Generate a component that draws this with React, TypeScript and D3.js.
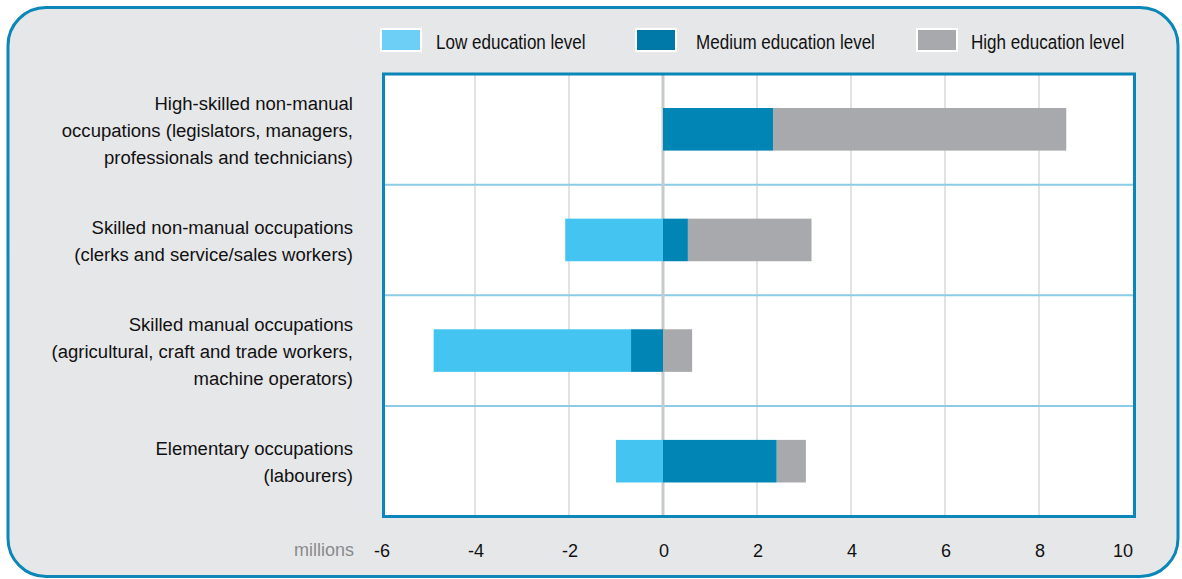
import React from "react";
import * as d3 from "d3";

const categories = [
  ["High-skilled non-manual", "occupations (legislators, managers,", "professionals and technicians)"],
  ["Skilled non-manual occupations", "(clerks and service/sales workers)"],
  ["Skilled manual occupations", "(agricultural, craft and trade workers,", "machine operators)"],
  ["Elementary occupations", "(labourers)"],
];
const lowValues = [0, -2.08, -4.2, -1.0];
const mediumValues = [2.34, 0.53, -0.68, 2.42];
const highValues = [6.24, 2.63, 0.62, 0.62];
const xTicks = [-6, -4, -2, 0, 2, 4, 6, 8, 10];
const seriesNames = ["Low education level", "Medium education level", "High education level"];

const W = 1182;
const H = 579;
const FONT = "'Liberation Sans', Arial, sans-serif";
const barColors = { low: "#44c5f1", medium: "#0085b5", high: "#a8a9ad" };
const legendColors = ["#6dcff6", "#0079a8", "#a7a9ac"];

function CText(props: { x: number; y: number; anchor?: string; fill?: string; size?: number; sx?: number; children: any }) {
  const { x, y, anchor = "start", fill = "#111", size = 19, sx = 0.975, children } = props;
  return (
    <g transform={`translate(${x},${y}) scale(${sx},1)`}>
      <text x={0} y={0} textAnchor={anchor as any} fontFamily={FONT} fontSize={size} fill={fill}>
        {children}
      </text>
    </g>
  );
}

export default function App() {
  const plot = { x0: 383.5, x1: 1134.5, y0: 74, y1: 516.5 };
  const x = d3.scaleLinear().domain([-6, 10]).range([381, 1133]);
  const idx = categories.map((_, i) => i);
  const y = d3
    .scaleBand<number>()
    .domain(idx)
    .range([plot.y0, plot.y1])
    .paddingInner(0.615)
    .paddingOuter(0.3075);
  const band = d3.scaleBand<number>().domain(idx).range([plot.y0, plot.y1]);

  const rows = idx.map((i) => ({ low: lowValues[i], medium: mediumValues[i], high: highValues[i] }));
  const stack = d3
    .stack<any>()
    .keys(["medium", "low", "high"])
    .offset(d3.stackOffsetDiverging);
  const series = stack(rows);

  const legendItems = [
    { sx: 381, tx: 436 },
    { sx: 636, tx: 696 },
    { sx: 917, tx: 971 },
  ];

  return (
    <svg width={W} height={H} style={{ display: "block", position: "absolute", left: 0, top: 0 }}>
      <rect x={8} y={7.5} width={1170} height={569} rx={38} ry={38} fill="#e6e7e9" stroke="#0a86b8" strokeWidth={3} />

      {/* legend */}
      {seriesNames.map((name, i) => (
        <g key={name}>
          <rect x={legendItems[i].sx} y={29} width={40} height={22} fill={legendColors[i]} stroke="#ffffff" strokeWidth={2} />
          <CText x={legendItems[i].tx} y={49} size={19.5} sx={0.874}>
            {name}
          </CText>
        </g>
      ))}

      {/* plot background */}
      <rect x={plot.x0} y={plot.y0} width={plot.x1 - plot.x0} height={plot.y1 - plot.y0} fill="#ffffff" />

      {/* grid */}
      {xTicks
        .filter((t) => t !== 0 && t !== -6 && t !== 10)
        .map((t) => (
          <line key={t} x1={x(t)} x2={x(t)} y1={plot.y0} y2={plot.y1} stroke="#d9d9db" strokeWidth={1.5} />
        ))}

      {/* row separators */}
      {idx.slice(1).map((i) => (
        <line key={i} x1={plot.x0} x2={plot.x1} y1={band(i)!} y2={band(i)!} stroke="#8bcbe7" strokeWidth={2} />
      ))}

      {/* zero line */}
      <line x1={x(0)} x2={x(0)} y1={plot.y0} y2={plot.y1} stroke="#c8c9cb" strokeWidth={3} />

      {/* bars */}
      {series.map((s) => (
        <g key={s.key} fill={(barColors as any)[s.key]}>
          {s.map((d, i) => {
            const a = Math.min(d[0], d[1]);
            const b = Math.max(d[0], d[1]);
            if (b - a <= 0) return null;
            return <rect key={i} x={x(a)} y={y(i)!} width={x(b) - x(a)} height={y.bandwidth()} />;
          })}
        </g>
      ))}

      {/* plot border */}
      <rect x={plot.x0} y={plot.y0} width={plot.x1 - plot.x0} height={plot.y1 - plot.y0} fill="none" stroke="#0a86b8" strokeWidth={3} />

      {/* category labels */}
      {categories.map((lines, i) => {
        const cy = band(i)! + band.bandwidth() / 2;
        const lh = 27;
        const startY = cy - ((lines.length - 1) * lh) / 2 + 7.5;
        return (
          <g key={i}>
            {lines.map((l, j) => (
              <CText key={j} x={353} y={startY + j * lh} anchor="end">
                {l}
              </CText>
            ))}
          </g>
        );
      })}

      {/* x tick labels */}
      {xTicks.map((t, i) => (
        <CText
          key={t}
          x={i === xTicks.length - 1 ? x(t) : x(t) + 1}
          y={557}
          anchor={i === xTicks.length - 1 ? "end" : "middle"}
          size={18}
          sx={1}
        >
          {String(t)}
        </CText>
      ))}
      <CText x={354} y={556} anchor="end" fill="#8a8b8d" size={18} sx={1}>
        millions
      </CText>
    </svg>
  );
}
